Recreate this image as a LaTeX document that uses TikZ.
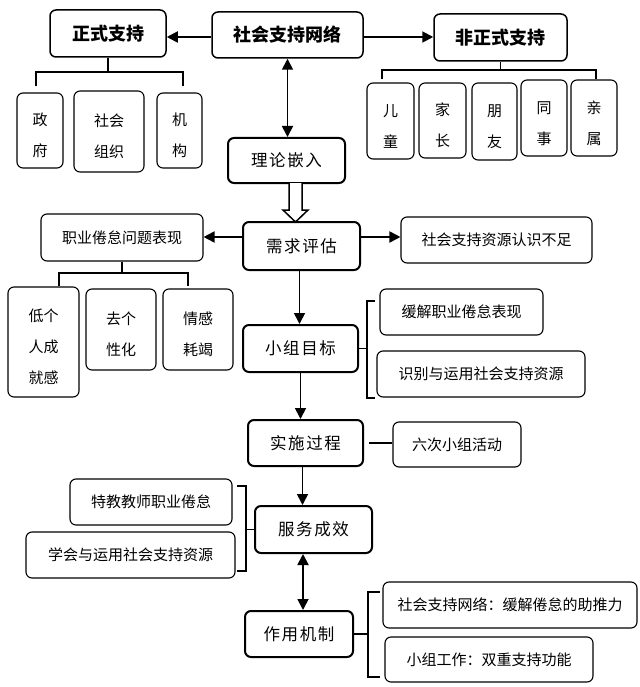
\documentclass[tikz,border=0pt]{standalone}
\usepackage{fontspec}
\setmainfont{Noto Sans CJK SC}
\newfontfamily\cjkspaced[LetterSpace=10]{Noto Sans CJK SC}
\usetikzlibrary{arrows.meta}
\newcommand{\vstrut}{\rule{0pt}{23pt}}
\tikzset{
  titlebox/.style={draw, line width=1.5pt, rounded corners=6pt, inner sep=0pt, font=\bfseries\fontsize{18}{20}\selectfont},
  mainbox/.style={draw, line width=2pt, rounded corners=6pt, inner sep=0pt, font=\cjkspaced\fontsize{16.5}{20}\selectfont},
  subbox/.style={draw, line width=1.1pt, rounded corners=6pt, inner sep=0pt, font=\fontsize{15}{18}\selectfont},
  vbox/.style={draw, line width=1.1pt, rounded corners=6pt, inner sep=0pt, align=center, font=\fontsize{15}{31}\selectfont},
  arr/.style={line width=1.8pt, -{Triangle[length=11pt,width=11pt]}},
  biarr/.style={line width=1.8pt, {Triangle[length=11pt,width=11pt]}-{Triangle[length=11pt,width=11pt]}},
  brk/.style={line width=1.8pt},
  thin/.style={line width=1.1pt},
}
\begin{document}
\begin{tikzpicture}[x=1pt,y=-1pt]
\useasboundingbox (0,0) rectangle (639,687);
% top row
\node[titlebox, minimum width=116pt, minimum height=47pt] (zs) at (108,33.5) {正式支持};
\node[titlebox, minimum width=151pt, minimum height=46pt] (sw) at (287.5,35) {社会支持网络};
\node[titlebox, minimum width=133pt, minimum height=47pt] (fz) at (500.5,37.5) {非正式支持};
% formal sub-boxes
\node[vbox, minimum width=46pt, minimum height=75pt] (zf) at (40,130.5) {\vstrut 政\\府};
\node[vbox, minimum width=70pt, minimum height=81pt] (sh) at (109,131.5) {\vstrut 社会\\组织};
\node[vbox, minimum width=45pt, minimum height=75pt] (jg) at (179.5,130.5) {\vstrut 机\\构};
% informal sub-boxes
\node[vbox, minimum width=47pt, minimum height=76pt] (et) at (390.5,121) {\vstrut 儿\\童};
\node[vbox, minimum width=47pt, minimum height=75pt] (jz) at (442.5,120.5) {\vstrut 家\\长};
\node[vbox, minimum width=45pt, minimum height=77pt] (py) at (494.5,121.5) {\vstrut 朋\\友};
\node[vbox, minimum width=46pt, minimum height=76pt] (ts) at (544,118) {\vstrut 同\\事};
\node[vbox, minimum width=46pt, minimum height=76pt] (qs) at (594,118) {\vstrut 亲\\属};
% main flow
\node[mainbox, minimum width=117pt, minimum height=45pt] (li) at (286.5,160.5) {理论嵌入};
\node[mainbox, minimum width=117pt, minimum height=48pt] (xq) at (301.5,246) {需求评估};
\node[mainbox, minimum width=115pt, minimum height=47pt] (xm) at (300.5,348.5) {小组目标};
\node[mainbox, minimum width=115pt, minimum height=46pt] (ss) at (305.5,443) {实施过程};
\node[mainbox, minimum width=117pt, minimum height=47pt] (fw) at (313.5,529.5) {服务成效};
\node[mainbox, minimum width=108pt, minimum height=46pt] (zj) at (299,634) {作用机制};
% assessment side
\node[subbox, minimum width=162pt, minimum height=47pt] (zy) at (122,237.5) {职业倦怠问题表现};
\node[subbox, minimum width=191pt, minimum height=46pt] (rz) at (496.5,240) {社会支持资源认识不足};
\node[vbox, minimum width=71pt, minimum height=110pt] (dg) at (43.5,342) {\vstrut 低个\\人成\\就感};
\node[vbox, minimum width=70pt, minimum height=81pt] (qg) at (121,329.5) {\vstrut 去个\\性化};
\node[vbox, minimum width=70pt, minimum height=81pt] (qgj) at (198,329.5) {\vstrut 情感\\耗竭};
% goals
\node[subbox, minimum width=163pt, minimum height=46pt] (hj) at (461.5,312) {缓解职业倦怠表现};
\node[subbox, minimum width=208pt, minimum height=46pt] (sb) at (481,374) {识别与运用社会支持资源};
% process
\node[subbox, minimum width=128pt, minimum height=45pt] (lc) at (457,444.5) {六次小组活动};
% outcome
\node[subbox, minimum width=162pt, minimum height=46pt] (tj) at (151,502) {特教教师职业倦怠};
\node[subbox, minimum width=209pt, minimum height=46pt] (xh) at (130.5,555) {学会与运用社会支持资源};
% mechanism
\node[subbox, minimum width=254pt, minimum height=46pt] (wl) at (510,605) {社会支持网络：缓解倦怠的助推力};
\node[subbox, minimum width=208pt, minimum height=45pt] (xg) at (489,659.5) {小组工作：双重支持功能};

% top arrows
\draw[arr] ([yshift=-2pt]sw.west) -- ([yshift=-2pt]sw.west -| zs.east);
\draw[arr] ([yshift=-2pt]sw.east) -- ([yshift=-2pt]sw.east -| fz.west);
\draw[biarr] (sw.south) -- (sw.south |- li.north);
% formal bracket
\coordinate (zsbar) at (0,72);
\draw[brk] (zs.south) -- (zs.south |- zsbar);
\draw[brk] ([xshift=-4pt,yshift=6pt]zf.north) -- ([xshift=-4pt]zf.north |- zsbar) -- ([xshift=3.5pt]jg.north |- zsbar) -- ([xshift=3.5pt,yshift=6pt]jg.north);
% informal bracket
\coordinate (fzbar) at (0,70);
\draw[brk] (fz.south) -- (fz.south |- fzbar);
\draw[brk] ([xshift=-8.5pt,yshift=3pt]et.north) -- ([xshift=-8.5pt]et.north |- fzbar) -- ([xshift=2pt]qs.north |- fzbar) -- ([xshift=2pt]qs.north);
% hollow arrow
\draw[line width=1.5pt, fill=white] (289,183) -- (289,210) -- (283,210) -- (295.5,222) -- (308,210) -- (302,210) -- (302,183);
% assessment arrows
\draw[arr] ([yshift=9pt]xq.west) -- ([yshift=9pt]xq.west -| zy.east);
\draw[arr] ([yshift=9pt]xq.east) -- ([yshift=9pt]xq.east -| rz.west);
\draw[arr] ([xshift=-2pt]xq.south) -- ([xshift=-2pt]xq.south |- xm.north);
% burnout bracket
\coordinate (zybar) at (0,273);
\draw[brk] (zy.south) -- (zy.south |- zybar);
\draw[brk] ([xshift=15.5pt]dg.north) -- ([xshift=15.5pt]dg.north |- zybar) -- ([xshift=-10pt]qgj.north |- zybar) -- ([xshift=-10pt,yshift=2pt]qgj.north);
% goals bracket
\coordinate (xmb) at (367,0);
\draw[brk] (xm.east) -- (xm.east -| xmb);
\draw[brk] (375,301) -- (xmb |- 0,301) -- (xmb |- 0,398) -- (375,398);
% process
\draw[arr] (xm.south) -- (xm.south |- ss.north);
\draw[thin] ([xshift=5pt]ss.east) -- (ss.east -| lc.west);
\draw[arr] ([xshift=-3pt]ss.south) -- ([xshift=-3pt]ss.south |- fw.north);
% outcome bracket
\coordinate (fwb) at (246,0);
\draw[brk] (fw.west) -- (fw.west -| fwb);
\draw[brk] (237,486) -- (fwb |- 0,486) -- (fwb |- 0,571) -- (237,571);
% mechanism
\draw[biarr] ([xshift=4pt]zj.north |- fw.south) -- ([xshift=4pt]zj.north);
\coordinate (zjb) at (368,0);
\draw[brk] (zj.east) -- (zj.east -| zjb);
\draw[brk] (380,592) -- (zjb |- 0,592) -- (zjb |- 0,677) -- (380,677);
\end{tikzpicture}
\end{document}
